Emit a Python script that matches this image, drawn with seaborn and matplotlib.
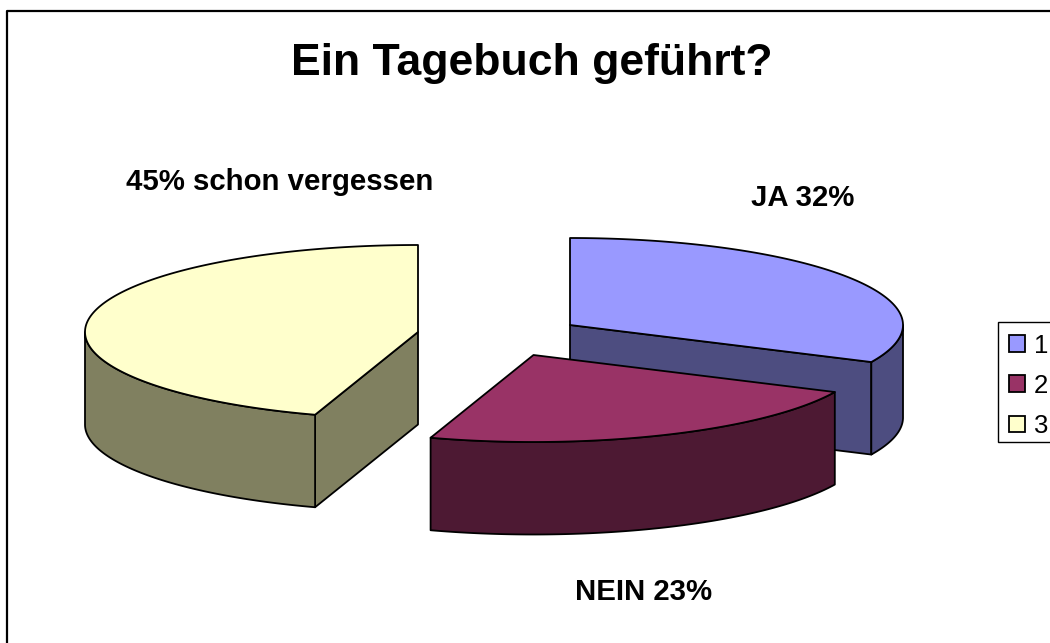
import numpy as np
import pandas as pd
import seaborn as sns
import matplotlib
matplotlib.use("Agg")
import matplotlib.pyplot as plt
from matplotlib.patches import Polygon, Patch, Rectangle

categories = ["1", "2", "3"]
values = [32, 23, 45]
labels = ["JA 32%", "NEIN 23%", "45% schon vergessen"]
title = "Ein Tagebuch geführt?"

top_colors = ["#9999FF", "#993366", "#FFFFCC"]
side_colors = ["#4D4D80", "#4D1933", "#808060"]

sns.set_theme(style="white")
plt.rcParams["font.family"] = ["Liberation Sans", "DejaVu Sans"]

df = pd.DataFrame({"cat": categories, "value": values})
df["start"] = df["value"].cumsum().shift(fill_value=0) / df["value"].sum() * 2 * np.pi
df["end"] = df["value"].cumsum() / df["value"].sum() * 2 * np.pi

RX, RY, DEPTH = 333, 87, 92.5
centers = [(570, 325), (533.5, 355), (418, 332)]
label_pos = [(803, 198), (644, 592), (280, 182)]

fig, ax = plt.subplots(figsize=(10.5, 6.43), dpi=100)
fig.subplots_adjust(0, 0, 1, 1)
ax.set_xlim(0, 1050)
ax.set_ylim(643, 0)
ax.axis("off")


def pt(c, a, dy=0):
    return (c[0] + RX * np.sin(a), c[1] - RY * np.cos(a) + dy)


def arc(c, a0, a1, dy=0):
    t = np.linspace(a0, a1, 200)
    return np.column_stack([c[0] + RX * np.sin(t), c[1] - RY * np.cos(t) + dy])


def poly(xy, fc, z):
    ax.add_patch(Polygon(xy, closed=True, facecolor=fc, edgecolor="black", lw=1.3,
                         joinstyle="round", zorder=z))


order = [0, 2, 1]
for z, i in enumerate(order):
    row = df.iloc[i]
    c = centers[i]
    a0, a1 = row["start"], row["end"]
    base = 10 * (z + 1)
    # cut face toward the viewer
    if i == 0:
        e = pt(c, a1)
        poly([c, e, (e[0], e[1] + DEPTH), (c[0], c[1] + DEPTH)], side_colors[i], base)
    if i == 2:
        s = pt(c, a0)
        poly([c, s, (s[0], s[1] + DEPTH), (c[0], c[1] + DEPTH)], side_colors[i], base)
    # outer rim: only the part facing the viewer (between 90 and 270 degrees)
    r0, r1 = max(a0, np.pi / 2), min(a1, 3 * np.pi / 2)
    if r1 > r0:
        up = arc(c, r0, r1)
        down = arc(c, r1, r0, DEPTH)
        poly(np.vstack([up, down]), side_colors[i], base + 1)
    # top face
    poly(np.vstack([[c], arc(c, a0, a1)]), top_colors[i], base + 2)

ax.text(532, 64, title, ha="center", va="center", fontsize=32, fontweight="bold", color="black")
for (x, y), s in zip(label_pos, labels):
    ax.text(x, y, s, ha="center", va="center", fontsize=21.2, fontweight="bold", color="black")

# chart frame, open at the cropped right and bottom sides
ax.plot([6.5, 6.5, 1050], [643, 10.5, 10.5], color="black", lw=1.6, clip_on=False, zorder=50)

# legend box, running off the right edge as in the cropped original
ax.add_patch(Rectangle((997.5, 322), 70, 120, facecolor="white", edgecolor="black", lw=1.0,
                       zorder=55, clip_on=True))
handles = [Patch(facecolor=f, edgecolor="black", lw=1.3, label=n) for f, n in zip(top_colors, categories)]
leg = ax.legend(handles=handles, loc="upper left", bbox_to_anchor=(997.5, 322),
                bbox_transform=ax.transData, fontsize=18.5, frameon=False,
                borderpad=0.45, labelspacing=0.63,
                handlelength=0.62, handleheight=0.62, handletextpad=0.35, borderaxespad=0,
                labelcolor="black")
leg.set_zorder(60)

fig.savefig("out.png", dpi=100, facecolor="white")
